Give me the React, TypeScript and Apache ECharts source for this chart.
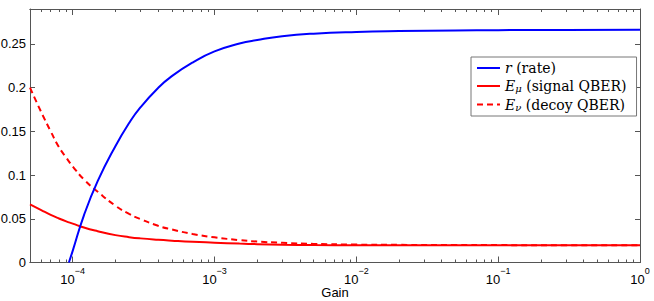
import React, { useEffect, useRef } from 'react';
import * as echarts from 'echarts';

const gains = [5e-5, 6e-5, 7e-5, 8e-5, 9e-5, 1e-4, 1.2e-4, 1.5e-4, 2e-4, 2.5e-4, 3e-4, 4e-4, 5e-4, 7e-4, 1e-3, 1.5e-3, 2e-3, 3e-3, 5e-3, 1e-2, 2e-2, 5e-2, 0.1, 0.3, 1];
const decoyQber = [0.200, 0.172, 0.150, 0.132, 0.120, 0.110, 0.095, 0.081, 0.065, 0.0555, 0.0497, 0.042, 0.0378, 0.0326, 0.0288, 0.0256, 0.024, 0.0225, 0.0213, 0.0205, 0.0202, 0.0200, 0.0199, 0.0198, 0.0198];
const signalQber = [0.0666, 0.060, 0.0545, 0.0503, 0.047, 0.0445, 0.040, 0.0358, 0.0313, 0.029, 0.0276, 0.026, 0.025, 0.0237, 0.0227, 0.0216, 0.021, 0.0204, 0.0199, 0.0197, 0.0196, 0.0196, 0.0196, 0.0196, 0.0196];

const rateGains = [9.4e-5, 1e-4, 1.2e-4, 1.5e-4, 2e-4, 2.5e-4, 3e-4, 4e-4, 5e-4, 7e-4, 1e-3, 1.5e-3, 2e-3, 3e-3, 5e-3, 1e-2, 2e-2, 5e-2, 0.1, 0.3, 1];
const rate = [0, 0.0133, 0.054, 0.093, 0.133, 0.1595, 0.1774, 0.1997, 0.2132, 0.2287, 0.2415, 0.2505, 0.2545, 0.2588, 0.2618, 0.2638, 0.2648, 0.2655, 0.2658, 0.266, 0.2662];

const xMajorTicks = [1e-4, 1e-3, 1e-2, 1e-1, 1];
const xMinorTicks = [6e-5, 7e-5, 8e-5, 9e-5,
  2e-4, 3e-4, 4e-4, 5e-4, 6e-4, 7e-4, 8e-4, 9e-4,
  2e-3, 3e-3, 4e-3, 5e-3, 6e-3, 7e-3, 8e-3, 9e-3,
  2e-2, 3e-2, 4e-2, 5e-2, 6e-2, 7e-2, 8e-2, 9e-2,
  0.2, 0.3, 0.4, 0.5, 0.6, 0.7, 0.8, 0.9];
const yTicks = [0, 0.05, 0.1, 0.15, 0.2, 0.25];

const seriesNames = ['r', 'Emu', 'Enu'];
const legendLabels: Record<string, string> = {
  r: '{it|r}{rm| (rate)}',
  Emu: '{it|E}{sub|μ}{rm| (signal QBER)}',
  Enu: '{it|E}{sub|ν}{rm| (decoy QBER)}',
};

const AXIS_COLOR = '#555';
const FONT = 'Liberation Sans, Arial, Helvetica, sans-serif';

export default function App() {
  const ref = useRef<HTMLDivElement>(null);
  useEffect(() => {
    if (!ref.current) return;
    const chart = echarts.init(ref.current, undefined, { renderer: 'svg' });
    const xBase = {
      type: 'log' as const,
      logBase: 10,
      min: 5e-5,
      max: 1,
      splitLine: { show: false },
      axisLine: { show: true, onZero: false, lineStyle: { color: AXIS_COLOR, width: 1 } },
    };
    const yBase = {
      type: 'value' as const,
      min: 0,
      max: 0.29,
      splitLine: { show: false },
      axisLine: { show: true, onZero: false, lineStyle: { color: AXIS_COLOR, width: 1 } },
    };
    const supFmt = (v: number) => {
      const e = Math.round(Math.log10(v));
      const s = e < 0 ? '−' + Math.abs(e) : String(e);
      return '{b|10}{s|' + s + '}';
    };
    const lineCommon = {
      type: 'line' as const,
      xAxisIndex: 0,
      yAxisIndex: 0,
      showSymbol: false,
      symbol: 'none',
      smooth: 0.5,
    };
    chart.setOption({
      animation: false,
      backgroundColor: '#fff',
      grid: { left: 30, right: 14, top: 9, bottom: 38.5, containLabel: false, outerBoundsMode: 'none' },
      legend: {
        orient: 'vertical',
        left: 471,
        top: 57,
        data: seriesNames,
        backgroundColor: '#fff',
        borderColor: '#777',
        borderWidth: 1,
        borderRadius: 0,
        padding: [4, 10, 4, 5],
        itemWidth: 23,
        itemHeight: 14,
        itemGap: 4,
        itemStyle: { opacity: 0 },
        formatter: (name: string) => legendLabels[name],
        textStyle: {
          color: '#000',
          fontFamily: 'DejaVu Serif',
          fontSize: 14,
          rich: {
            it: { fontFamily: 'DejaVu Serif', fontStyle: 'italic', fontSize: 14, color: '#000', lineHeight: 15 },
            rm: { fontFamily: 'DejaVu Serif', fontSize: 14, color: '#000', lineHeight: 15 },
            sub: { fontFamily: 'DejaVu Serif', fontStyle: 'italic', fontSize: 10, color: '#000', verticalAlign: 'bottom', lineHeight: 15 },
          },
        },
      },
      xAxis: [
        {
          ...xBase,
          position: 'bottom',
          name: 'Gain',
          nameLocation: 'middle',
          nameGap: 23,
          nameMoveOverlap: false,
          nameTextStyle: { color: '#000', fontFamily: FONT, fontSize: 13 },
          axisTick: { show: true, inside: true, length: 6, customValues: xMajorTicks, lineStyle: { color: AXIS_COLOR } },
          axisLabel: {
            show: true,
            customValues: xMajorTicks,
            margin: 4,
            formatter: supFmt,
            rich: {
              b: { fontFamily: FONT, fontSize: 13, color: '#000', verticalAlign: 'bottom', lineHeight: 19 },
              s: { fontFamily: FONT, fontSize: 9, color: '#000', verticalAlign: 'top', lineHeight: 19 },
            },
          },
        },
        {
          ...xBase,
          position: 'bottom',
          axisTick: { show: true, inside: true, length: 3, customValues: xMinorTicks, lineStyle: { color: AXIS_COLOR } },
          axisLabel: { show: false },
        },
        {
          ...xBase,
          position: 'top',
          axisTick: { show: true, inside: true, length: 6, customValues: xMajorTicks, lineStyle: { color: AXIS_COLOR } },
          axisLabel: { show: false },
        },
        {
          ...xBase,
          position: 'top',
          axisTick: { show: true, inside: true, length: 3, customValues: xMinorTicks, lineStyle: { color: AXIS_COLOR } },
          axisLabel: { show: false },
        },
      ],
      yAxis: [
        {
          ...yBase,
          position: 'left',
          axisTick: { show: true, inside: true, length: 5, customValues: yTicks, lineStyle: { color: AXIS_COLOR } },
          axisLabel: { show: true, customValues: yTicks, margin: 4, color: '#000', fontFamily: FONT, fontSize: 13 },
        },
        {
          ...yBase,
          position: 'right',
          axisTick: { show: true, inside: true, length: 5, customValues: yTicks, lineStyle: { color: AXIS_COLOR } },
          axisLabel: { show: false },
        },
      ],
      series: [
        {
          ...lineCommon,
          name: 'r',
          data: rateGains.map((g, i) => [g, rate[i]]),
          lineStyle: { color: '#0000ff', width: 2 },
          itemStyle: { color: '#0000ff' },
          z: 3,
        },
        {
          ...lineCommon,
          name: 'Emu',
          data: gains.map((g, i) => [g, signalQber[i]]),
          lineStyle: { color: '#ff0000', width: 2 },
          itemStyle: { color: '#ff0000' },
          z: 2,
        },
        {
          ...lineCommon,
          name: 'Enu',
          data: gains.map((g, i) => [g, decoyQber[i]]),
          lineStyle: { color: '#ff0000', width: 2, type: [6, 4] },
          itemStyle: { color: '#ff0000' },
          z: 2,
        },
      ],
    });
    return () => chart.dispose();
  }, []);
  return <div ref={ref} style={{ position: 'absolute', left: 0, top: 0, width: 654, height: 301 }} />;
}
